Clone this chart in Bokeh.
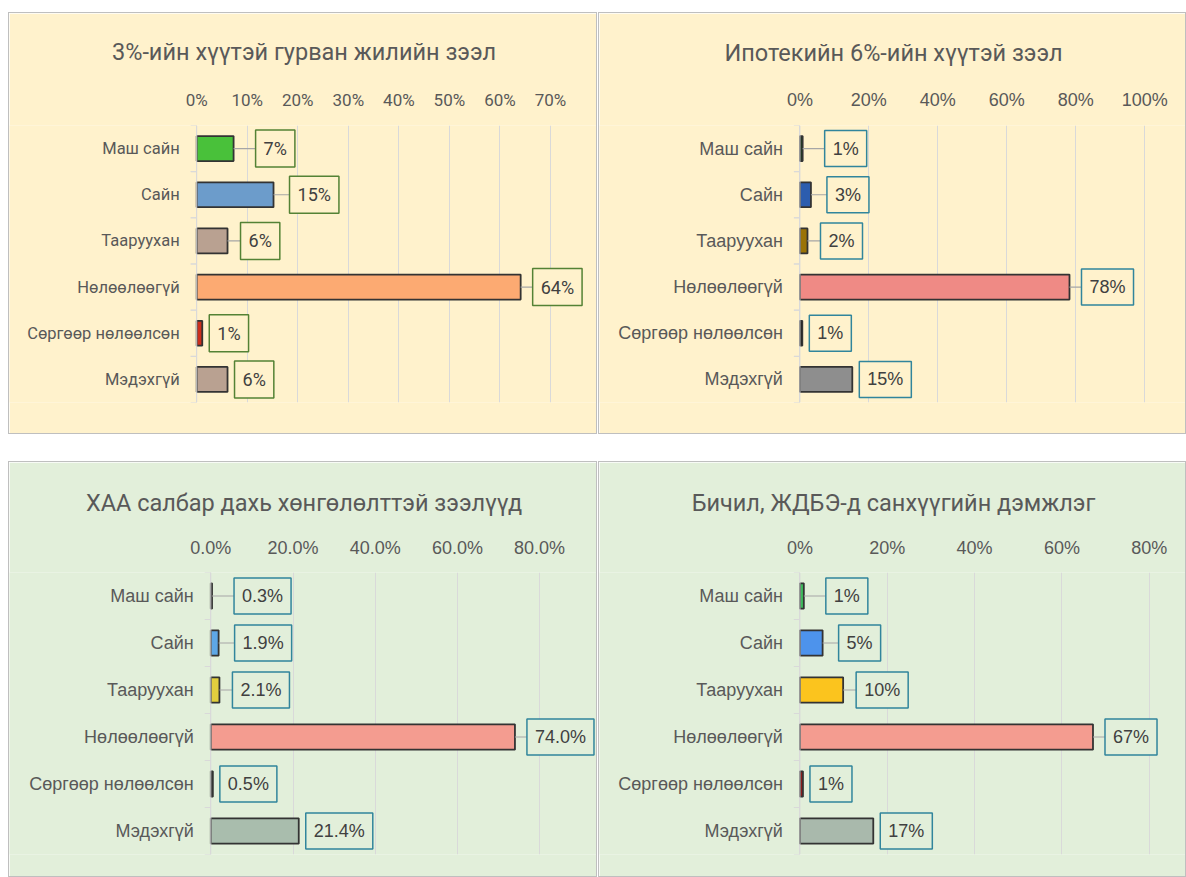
import numpy as np
from bokeh.plotting import figure
from bokeh.models import (ColumnDataSource, FixedTicker, NumeralTickFormatter, Span,
                          FactorRange, Range1d, Spacer)
from bokeh.layouts import column, row
from bokeh.transform import dodge
from bokeh.embed import file_html
from bokeh.resources import INLINE
from bokeh.core.properties import value

# ---------------- data ----------------
categories = ["Маш сайн", "Сайн", "Тааруухан", "Нөлөөлөөгүй", "Сөргөөр нөлөөлсөн", "Мэдэхгүй"]

title_loan3 = "3%-ийн хүүтэй гурван жилийн зээл"
title_mortgage = "Ипотекийн 6%-ийн хүүтэй зээл"
title_agri = "ХАА салбар дахь хөнгөлөлттэй зээлүүд"
title_sme = "Бичил, ЖДБЭ-д санхүүгийн дэмжлэг"

loan3_values = [0.073, 0.152, 0.061, 0.641, 0.011, 0.061]
mortgage_values = [0.008, 0.032, 0.022, 0.782, 0.007, 0.152]
agri_values = [0.003, 0.019, 0.021, 0.740, 0.005, 0.214]
sme_values = [0.009, 0.052, 0.099, 0.671, 0.007, 0.168]

loan3_ticks = [0.0, 0.1, 0.2, 0.3, 0.4, 0.5, 0.6, 0.7]
mortgage_ticks = [0.0, 0.2, 0.4, 0.6, 0.8, 1.0]
agri_ticks = [0.0, 0.2, 0.4, 0.6, 0.8]
sme_ticks = [0.0, 0.2, 0.4, 0.6, 0.8]

# ---------------- styles ----------------
loan3_colors = ["#49C13A", "#6C9CCB", "#B9A191", "#FCAA72", "#CC2E1C", "#B9A191"]
mortgage_colors = ["#1F3A22", "#2C5DAE", "#9A7306", "#EF8A85", "#1A1A1A", "#8E8E8E"]
agri_colors = ["#1A1A1A", "#5EA7E6", "#E2CE3E", "#F49C90", "#1A1A1A", "#A9BDAD"]
sme_colors = ["#3EBB5C", "#4D93EC", "#FBC41E", "#F49C90", "#8A1C1C", "#A9B9AC"]

LABEL_GAP = [22, 16, 13, 12, 7, 7]
LEADER_ALPHA = [1, 1, 1, 1, 0, 0]

YELLOW_BG = "#FFF2CC"
GREEN_BG = "#E2EFDA"
TEXT = "#595959"


def make_panel(title, values, colors, ticks, tick_fmt, label_fmt, bg, box_color,
               W, H, zero_px, px_per_unit, frame_top, frame_bottom,
               font, cat_size, val_size, tick_size, tick_standoff,
               title_size, title_standoff):
    start = -zero_px / px_per_unit
    end = (W - zero_px) / px_per_unit
    p = figure(width=W, height=H, x_range=Range1d(start, end),
               y_range=FactorRange(factors=list(reversed(categories))),
               x_axis_location="above", y_axis_location=None,
               output_backend="svg", toolbar_location=None,
               min_border=0, min_border_left=0, min_border_right=0,
               min_border_top=frame_top, min_border_bottom=H - frame_bottom,
               title=title)
    p.background_fill_color = bg
    p.border_fill_color = bg
    p.outline_line_color = None
    p.styles = {"border": "1px solid #BFBFBF", "box-sizing": "border-box"}

    p.title.align = "center"
    p.title.text_font = "Roboto"
    p.title.text_font_size = title_size
    p.title.text_font_style = "normal"
    p.title.text_color = TEXT
    p.title.standoff = title_standoff

    ax = p.xaxis[0]
    ax.ticker = FixedTicker(ticks=ticks)
    ax.formatter = NumeralTickFormatter(format=tick_fmt)
    ax.axis_line_color = None
    ax.major_tick_line_color = None
    ax.minor_tick_line_color = None
    ax.major_label_text_font = font
    ax.major_label_text_font_size = tick_size
    ax.major_label_text_color = TEXT
    ax.major_label_standoff = tick_standoff

    p.xgrid.ticker = FixedTicker(ticks=ticks)
    p.xgrid.grid_line_color = "#D9D9D9"
    p.ygrid.grid_line_color = None

    p.add_layout(Span(location=0, dimension="height", line_color="#D9D9D9", line_width=1))

    src = ColumnDataSource(dict(
        cat=categories,
        val=values,
        color=colors,
        label=[label_fmt.format(v) for v in values],
        gap=LABEL_GAP,
        lead=LEADER_ALPHA,
    ))

    # category boundary tick marks on the value axis line
    for off in (0.5, -0.5):
        p.ray(x=0, y=dodge("cat", off, range=p.y_range), length=6, length_units="screen",
              angle=np.pi, line_color="#D9D9D9", line_width=1, source=src)

    p.hbar(y="cat", left=0, right="val", height=0.54, fill_color="color",
           line_color="#333333", line_width=1.8, source=src)
    p.ray(x="val", y="cat", length="gap", length_units="screen", angle=0,
          line_color="#A6A6A6", line_width=1.2, line_alpha="lead", source=src)
    p.text(x="val", y="cat", text="label", x_offset="gap", text_align="left",
           text_baseline="middle", text_font=value(font), text_font_size=val_size,
           text_color="#404040",
           padding=dict(left=8, right=8, top=8, bottom=8),
           border_line_color=box_color, border_line_width=1.5,
           background_fill_color=bg, source=src)
    p.text(x=0, y="cat", text="cat", x_offset=-17, text_align="right",
           text_baseline="middle", text_font=value(font), text_font_size=cat_size,
           text_color=TEXT, source=src)
    return p


p1 = make_panel(title_loan3, loan3_values, loan3_colors, loan3_ticks, "0%", "{:.0%}",
                YELLOW_BG, "#548235", 589, 422, 187.2, 505.4, 112, 389,
                "Roboto", "16.5px", "18px", "17px", 10, "23.5px", 42)
p2 = make_panel(title_mortgage, mortgage_values, mortgage_colors, mortgage_ticks, "0%", "{:.0%}",
                YELLOW_BG, "#31859C", 588, 422, 200.4, 344.75, 110, 390,
                "Liberation Sans", "18px", "18px", "18px", 10, "23.5px", 39)
p3 = make_panel(title_agri, agri_values, agri_colors, agri_ticks, "0.0%", "{:.1%}",
                GREEN_BG, "#31859C", 589, 416, 201.3, 411.0, 110, 392,
                "Liberation Sans", "18px", "18px", "18px", 9, "23.5px", 35)
p4 = make_panel(title_sme, sme_values, sme_colors, sme_ticks, "0%", "{:.0%}",
                GREEN_BG, "#31859C", 588, 416, 200.4, 436.8, 110, 392,
                "Liberation Sans", "18px", "18px", "18px", 9, "23.5px", 35)

layout = row(Spacer(width=8),
             column(Spacer(height=12),
                    row(p1, Spacer(width=1), p2),
                    Spacer(height=27),
                    row(p3, Spacer(width=1), p4)))

open("out.html", "w").write(file_html(layout, INLINE))
